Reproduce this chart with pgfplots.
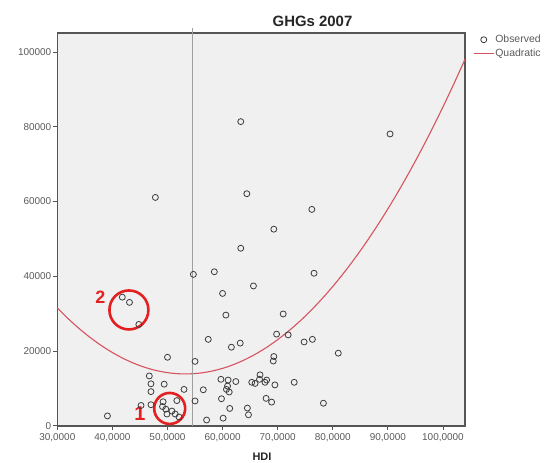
\documentclass[border=0pt]{standalone}
\usepackage{pgfplots}
\pgfplotsset{compat=1.18}
\usepackage{fontspec}
\setmainfont{Liberation Sans}
\definecolor{bgc}{RGB}{240,240,240}
\definecolor{fitred}{RGB}{214,84,96}
\definecolor{annred}{RGB}{228,32,32}
\definecolor{axc}{RGB}{85,85,85}
\definecolor{txtc}{RGB}{90,90,90}
\pgfplotsset{
  markleg/.style={legend image code/.code={\draw[mark repeat=2,mark phase=2,##1] plot coordinates {(0bp,0bp)(10bp,0bp)(20bp,0bp)};}},
  lineleg/.style={legend image code/.code={\draw[##1] (0bp,0bp)--(20bp,0bp);}},
}
\begin{document}
\begin{tikzpicture}
\path[use as bounding box] (-57.3bp,-37bp) rectangle (495.7bp,426bp);
\begin{axis}[
  at={(0,0)}, anchor=south west,
  scale only axis, width=407.7bp, height=393bp,
  xmin=30, xmax=104, ymin=-100, ymax=105130,
  clip=false,
  axis background/.style={fill=bgc},
  axis line style={axc, line width=1.3bp},
  tick pos=left, tick align=outside, major tick length=4bp,
  tick style={axc, line width=0.8bp},
  xtick={30,40,50,60,70,80,90,100},
  xticklabels={{30,0000},{40,0000},{50,0000},{60,0000},{70,0000},{80,0000},{90,0000},{100,0000}},
  ytick={0,20000,40000,60000,80000,100000},
  yticklabels={0,20000,40000,60000,80000,100000},
  ticklabel style={font=\fontsize{10}{11}\selectfont, text=txtc},
  xticklabel style={yshift=-0.5bp},
  yticklabel style={xshift=1.5bp},
  scaled ticks=false,
  legend style={at={(rel axis cs:1,1)}, anchor=north west, xshift=8bp, yshift=-1bp,
    draw=none, fill=none, font=\fontsize{10.5}{11}\selectfont, text=txtc,
    inner sep=0pt, row sep=2.5bp, cells={anchor=west}, nodes={inner sep=1bp}},
]
\addplot[only marks, mark=o, mark size=3bp, mark options={draw=axc!70!black, line width=0.8bp}, markleg]
coordinates {
(63.3,81400) (47.8,61100) (64.4,62100) (69.3,52600) (90.4,78100) (76.2,57900)
(63.3,47500) (54.7,40500) (58.5,41200) (60.0,35400) (65.6,37400) (76.6,40800)
(60.6,29600) (71.0,29900) (57.4,23100) (61.6,21000) (63.2,22100) (69.8,24500)
(71.9,24300) (74.8,22400) (76.3,23100) (81.0,19400) (69.3,18500) (69.2,17300)
(41.8,34400) (43.1,33000) (44.8,27100) (50.0,18300) (55.0,17200) (46.7,13300)
(47.0,11200) (47.0,9100) (49.4,11100) (53.0,9700) (56.5,9600) (55.0,6600)
(45.2,5400) (47.0,5600) (49.2,6400) (49.1,5100) (49.7,4400) (50.8,3900)
(49.9,3100) (51.4,3100) (51.7,6700) (52.1,2300) (39.1,2600) (59.7,12400)
(61.0,12200) (62.4,11800) (60.9,10600) (60.7,9700) (61.2,9000) (59.8,7200)
(61.3,4600) (57.1,1500) (60.1,2000) (65.3,11600) (65.9,11300) (66.8,13600)
(66.7,12400) (67.7,11600) (68.0,12200) (69.5,10900) (73.0,11600) (67.9,7300)
(68.9,6300) (78.3,6000) (64.5,4700) (64.7,2900)
};
\addlegendentry{Observed}
\addplot[fitred, line width=1.1bp, smooth, lineleg]
coordinates {
(30,31502) (32,28592) (34,25945) (36,23559) (38,21435) (40,19572) (42,17971)
(44,16632) (46,15554) (48,14738) (50,14183) (52,13890) (54,13859) (56,14089)
(58,14581) (60,15334) (62,16349) (64,17626) (66,19164) (68,20964) (70,23025)
(72,25348) (74,27933) (76,30779) (78,33887) (80,37257) (82,40887) (84,44780)
(86,48934) (88,53350) (90,58028) (92,62967) (94,68168) (96,73630) (98,79354)
(100,85339) (102,91586) (104,98095)
};
\addlegendentry{Quadratic}
\addplot[gray!75, line width=1bp, forget plot] coordinates {(54.5,0) (54.5,106500)};
\draw[annred, line width=2.6bp] (axis cs:43.0,30970) circle[radius=19.5bp];
\draw[annred, line width=2.6bp] (axis cs:50.4,4600) circle[radius=15.5bp];
\node[annred, font=\bfseries\fontsize{18}{18}\selectfont] at (axis cs:37.8,34500) {2};
\node[annred, font=\bfseries\fontsize{20}{20}\selectfont] at (axis cs:45.0,3100) {1};
\end{axis}
\node[font=\bfseries\fontsize{15}{16}\selectfont, text=black!85] at (255.2bp,404.3bp) {GHGs 2007};
\node[anchor=north, font=\bfseries\fontsize{11}{12}\selectfont, text=black!85, inner sep=0pt] at (204.7bp,-26.5bp) {HDI};
\end{tikzpicture}
\end{document}
